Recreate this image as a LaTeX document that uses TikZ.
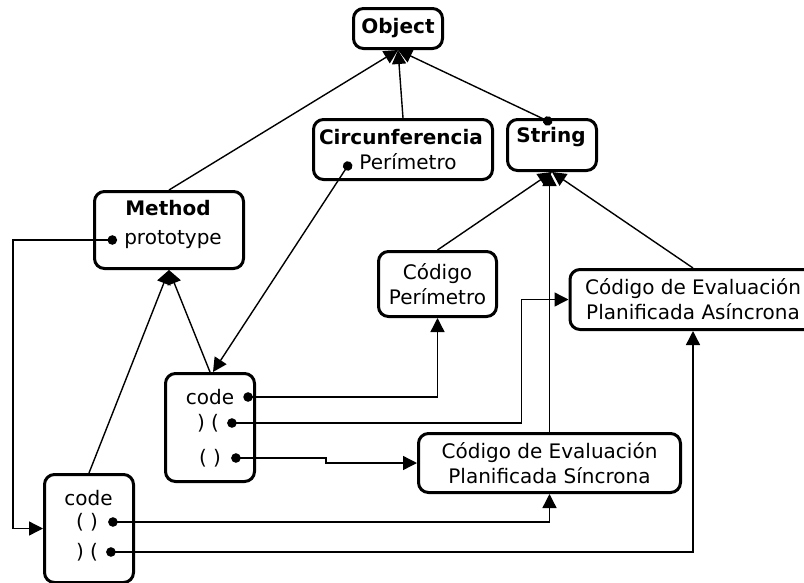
\documentclass[tikz,border=0pt]{standalone}
\usepackage{fontspec}
\setmainfont{DejaVu Sans}
\usepackage{tikz}
\usetikzlibrary{arrows.meta,positioning}

\begin{document}
\begin{tikzpicture}[x=1pt, y=-1pt, font=\fontsize{20}{25}\selectfont,
  box/.style={draw, rounded corners=10pt, line width=3pt, align=center, inner sep=0pt},
  txt/.style={inner sep=0pt},
  link/.style={line width=1.4pt},
  >={Triangle[length=14pt,width=14pt]},
  dotarrow/.style={{Circle[length=9.5pt]}->}]
  \useasboundingbox (0,0) rectangle (804,582);

  % classes
  \node[box, minimum width=89pt, minimum height=40pt] (object) at (398,28.5) {\textbf{Object}};
  \node[box, minimum width=179pt, minimum height=60pt] (circ) at (403,149.5) {};
  \node[txt] (circtitle) at (401,137) {\textbf{Circunferencia}};
  \node[txt] (perim) at (408,162) {Perímetro};
  \node[box, minimum width=89pt, minimum height=51pt] (string) at (552,145) {};
  \node[txt] (strtitle) at (551,137) {\textbf{String}};
  \node[box, minimum width=149pt, minimum height=77pt] (meth) at (169,230) {};
  \node[txt] (methtitle) at (168,208) {\textbf{Method}};
  \node[txt] (proto) at (173,240) {prototype};

  % string values
  \node[box, minimum width=118pt, minimum height=65pt] (cper) at (437.5,284) {Código\\Perímetro};
  \node[box, minimum width=246pt, minimum height=60pt] (asin) at (693,299.5) {Código de Evaluación\\Planificada Asíncrona};
  \node[box, minimum width=262pt, minimum height=59pt] (sin) at (549.5,463) {Código de Evaluación\\Planificada Síncrona};

  % method objects
  \node[box, minimum width=89pt, minimum height=108pt] (code1) at (210,427.5) {};
  \node[txt] (c1codetxt) at (210,397) {code};
  \node[txt] (c1revtxt) at (208,423) {)~(};
  \node[txt] (c1partxt) at (210,458) {(~)};
  \node[box, minimum width=89pt, minimum height=108pt] (code2) at (89,528.5) {};
  \node[txt] (c2codetxt) at (88.5,498) {code};
  \node[txt] (c2partxt) at (87,522) {(~)};
  \node[txt] (c2revtxt) at (87,552) {)~(};

  % slot dots
  \coordinate (perimdot) at ([xshift=-9pt]perim.west);
  \coordinate (protodot) at ([xshift=-7pt]proto.west);
  \coordinate (c1code) at ([xshift=9pt]c1codetxt.east);
  \coordinate (c1rev) at ([xshift=8pt]c1revtxt.east);
  \coordinate (c1par) at ([xshift=10pt]c1partxt.east);
  \coordinate (c2par) at ([xshift=10pt]c2partxt.east);
  \coordinate (c2rev) at ([xshift=8pt]c2revtxt.east);

  % inheritance
  \draw[link, ->] (meth.north) -- (object.south);
  \draw[link, ->] (circ.north) -- (object.south);
  \draw[link, dotarrow] ([yshift=-5pt]string.north) -- (object.south);
  \draw[link, ->] (cper.north) -- (string.south);
  \draw[link, ->] (sin.north) -- (sin.north |- string.south);
  \draw[link, ->] (asin.north) -- (string.south);
  \draw[link, ->] (code1.north) -- (meth.south);
  \draw[link, ->] (code2.north) -- (meth.south);

  % references
  \draw[link, dotarrow] (perimdot) -- ([xshift=3pt]code1.north);
  \draw[link, dotarrow] (protodot) -| ([xshift=-30pt]code2.west) -- (code2.west);
  \draw[link, dotarrow] (c1code) -| (cper.south);
  \draw[link, dotarrow] (c1rev) -| ([xshift=-47pt]asin.west) -- (asin.west);
  \draw[link, dotarrow] (c1par) -| ([xshift=-91pt]sin.west) -- (sin.west);
  \draw[link, dotarrow] (c2par) -| (sin.south);
  \draw[link, dotarrow] (c2rev) -| (asin.south);
\end{tikzpicture}
\end{document}
